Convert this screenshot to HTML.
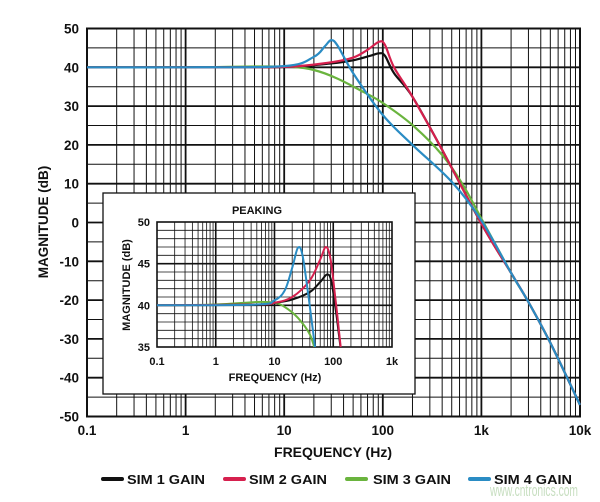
<!DOCTYPE html><html><head><style>body{margin:0;background:#fff}svg{display:block}text{font-family:"Liberation Sans",sans-serif;font-weight:bold;fill:#111}</style></head><body>
<svg id="s" width="600" height="502" xmlns="http://www.w3.org/2000/svg"></svg>
<script>
const s=document.getElementById('s');let h='';
function L(x1,y1,x2,y2,w,c){h+=`<line x1="${x1}" y1="${y1}" x2="${x2}" y2="${y2}" stroke="${c||'#111'}" stroke-width="${w}"/>`;}
function T(x,y,t,sz,a,extra){h+=`<text x="${x}" y="${y}" font-size="${sz}" text-anchor="${a||'middle'}" ${extra||''}>${t}</text>`;}
const X0=87,X1=580,Y0=28.5,Y1=416.5;
const mx=f=>X0+(Math.log10(f)+1)*(X1-X0)/5, my=d=>Y0+(50-d)*(Y1-Y0)/100;
for(let d=0;d<5;d++)for(let k=2;k<10;k++)L(mx(k*Math.pow(10,d-1)),Y0,mx(k*Math.pow(10,d-1)),Y1,1);
for(let v=-45;v<50;v+=10)L(X0,my(v),X1,my(v),1);
for(let v=-40;v<50;v+=10)L(X0,my(v),X1,my(v),1.8);
for(let d=1;d<5;d++)L(mx(Math.pow(10,d-1)),Y0,mx(Math.pow(10,d-1)),Y1,1.8);
h+=`<rect x="${X0}" y="${Y0}" width="${X1-X0}" height="${Y1-Y0}" fill="none" stroke="#111" stroke-width="2"/>`;
for(let v=-50;v<=50;v+=10)T(79,my(v)+5,v,13.5,'end');
['0.1','1','10','100','1k','10k'].forEach((t,i)=>T(X0+i*(X1-X0)/5,435,t,13.5));
T(333,457,'FREQUENCY (Hz)',14);
T(0,0,'MAGNITUDE (dB)',13.5,'middle','transform="translate(48,222) rotate(-90)"');
function P(pts,c,fx,fy,w){
  const q=pts.map(p=>[fx(p[0]),fy(p[1])]);let d='M'+q[0][0].toFixed(1)+','+q[0][1].toFixed(1);
  for(let i=0;i<q.length-1;i++){const p0=q[i-1]||q[i],p1=q[i],p2=q[i+1],p3=q[i+2]||p2;
    const c1=[p1[0]+(p2[0]-p0[0])/6,p1[1]+(p2[1]-p0[1])/6],c2=[p2[0]-(p3[0]-p1[0])/6,p2[1]-(p3[1]-p1[1])/6];
    d+=`C${c1[0].toFixed(1)},${c1[1].toFixed(1)} ${c2[0].toFixed(1)},${c2[1].toFixed(1)} ${p2[0].toFixed(1)},${p2[1].toFixed(1)}`;}
  h+=`<path fill="none" stroke="${c}" stroke-width="${w}" stroke-linejoin="round" d="${d}"/>`;}
const cK='#111',cR='#d6204e',cG='#6ab43e',cB='#2a8cc4';
const tail=[[2000,-13],[3000,-20.5],[5000,-31],[10000,-47]];
const green=[[0.1,40],[1,40],[5,40.2],[12,40.1],[20,39.3],[34,37.2],[60,34],[100,30.8],[200,25.1],[400,17.4],[650,9.7],[1000,1]].concat(tail);
const black=[[0.1,40],[1,40],[10,40.1],[30,41],[50,41.8],[75,43],[92,43.6],[105,43],[130,38.5],[200,32.4],[400,18.7],[1000,-0.3]].concat(tail);
const red=[[0.1,40],[1,40],[10,40.1],[30,41.3],[50,42.5],[70,44.5],[92,46.6],[105,45.8],[130,40],[200,32.4],[400,18.7],[1000,-0.3]].concat(tail);
const blue=[[0.1,40],[1,40],[10,40.3],[20,42.7],[26,45.5],[30,47],[35,45.5],[50,38.5],[100,27.7],[200,20],[500,10.5],[1000,0.5]].concat(tail);
P(green,cG,mx,my,2.2);P(black,cK,mx,my,2.2);P(red,cR,mx,my,2.2);P(blue,cB,mx,my,2.2);
h+=`<rect x="103" y="193" width="312" height="201" fill="#fff" stroke="#111" stroke-width="1.3"/>`;
const A0=157,A1=392,B0=222,B1=347;
const ix=f=>A0+(Math.log10(f)+1)*(A1-A0)/4, iy=d=>B0+(50-d)*(B1-B0)/15;
for(let d=0;d<4;d++)for(let k=2;k<10;k++)L(ix(k*Math.pow(10,d-1)),B0,ix(k*Math.pow(10,d-1)),B1,0.8);
for(let v=36;v<50;v++)L(A0,iy(v),A1,iy(v),0.8);
for(let v of [40,45])L(A0,iy(v),A1,iy(v),1.6);
for(let d=1;d<4;d++)L(ix(Math.pow(10,d-1)),B0,ix(Math.pow(10,d-1)),B1,1.6);
h+=`<rect x="${A0}" y="${B0}" width="${A1-A0}" height="${B1-B0}" fill="none" stroke="#111" stroke-width="1.6"/>`;
[35,40,45,50].forEach(v=>T(150,iy(v)+4,v,11,'end'));
['0.1','1','10','100','1k'].forEach((t,i)=>T(A0+i*(A1-A0)/4,365,t,11));
T(275,381,'FREQUENCY (Hz)',11);T(257,214,'PEAKING',11);
T(0,0,'MAGNITUDE (dB)',11,'middle','transform="translate(130,285) rotate(-90)"');
h+=`<clipPath id="c"><rect x="${A0}" y="${B0-5}" width="${A1-A0}" height="${B1-B0+5}"/></clipPath><g clip-path="url(#c)">`;
P([[0.1,40],[1,40.1],[5,40.4],[10,40.3],[15,39.8],[25,38.5],[40,36.5],[52,34]],cG,ix,iy,2);
P([[0.1,40],[5,40.1],[10,40.3],[20,40.7],[40,41.6],[60,42.8],[78,43.7],[92,43],[110,39.5],[125,36.5],[140,33.5]],cK,ix,iy,2);
P([[0.1,40],[5,40.1],[10,40.3],[20,41],[40,43],[60,45.5],[75,47],[90,45.5],[110,40.5],[125,37],[140,33.5]],cR,ix,iy,2);
P([[0.1,40],[5,40.1],[10,40.6],[15,41.8],[20,44.5],[25,46.9],[30,46],[38,41],[45,37],[52,33.5]],cB,ix,iy,2);
h+='</g>';
h+=`<text x="490" y="496" font-size="17" textLength="88" lengthAdjust="spacingAndGlyphs" style="font-weight:normal;fill:#b9d6b0;opacity:.8">www.cntronics.com</text>`;
[[103,127,cK,'SIM 1 GAIN'],[225,249,cR,'SIM 2 GAIN'],[347,373,cG,'SIM 3 GAIN'],[470,494,cB,'SIM 4 GAIN']].forEach(a=>{h+=`<line x1="${a[0]}" y1="479" x2="${a[0]+19}" y2="479" stroke="${a[2]}" stroke-width="4" stroke-linecap="round"/>`;T(a[1],484,a[3],13,'start','textLength="78" lengthAdjust="spacingAndGlyphs"');});
s.innerHTML=h;
</script></body></html>
